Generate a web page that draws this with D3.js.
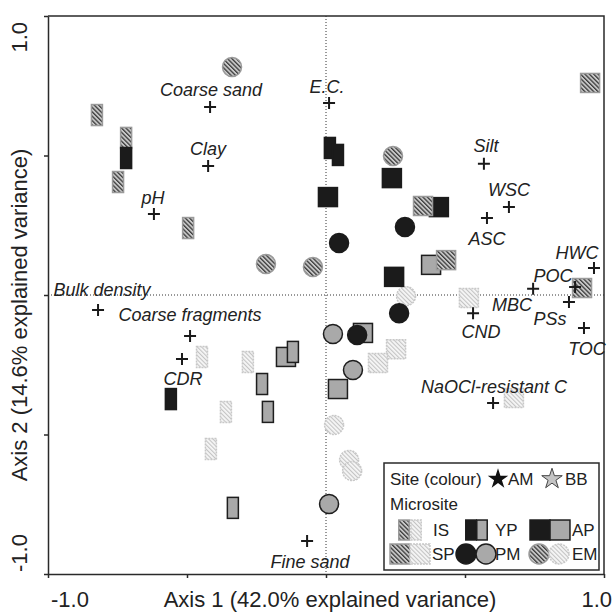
<!DOCTYPE html>
<html>
<head>
<meta charset="utf-8">
<script src="https://cdn.jsdelivr.net/npm/d3@7"></script>
<style>
  body { margin: 0; background: #fff; }
  svg { display: block; font-family: "Liberation Sans", Arial, sans-serif; }
</style>
</head>
<body>
<svg width="614" height="612"></svg>
<script>
// environmental variables (vectors) on the ordination
var varNames = ["Coarse sand", "E.C.", "Clay", "pH", "Silt", "WSC", "ASC", "HWC", "POC", "MBC",
                "PSs", "TOC", "CND", "NaOCl-resistant C", "Bulk density", "Coarse fragments", "CDR", "Fine sand"];
var varAxis1 = [-0.417, 0.011, -0.424, -0.619, 0.568, 0.658, 0.579, 0.964, 0.896, 0.745,
                0.874, 0.928, 0.529, 0.601, -0.820, -0.489, -0.518, -0.068];
var varAxis2 = [0.674, 0.688, 0.462, 0.290, 0.470, 0.315, 0.276, 0.097, 0.029, 0.022,
                -0.025, -0.118, -0.065, -0.387, -0.054, -0.147, -0.229, -0.882];

// samples
var sites = ["AM", "BB"];
var microsites = ["IS", "YP", "AP", "SP", "PM", "EM"];
var sampleSite = [
  "BB","BB","BB","BB", "BB","BB","BB","BB", "BB","BB","BB","BB",
  "BB","BB","BB","BB", "BB","BB","BB", "BB","BB","BB","BB",
  "AM","AM","AM","AM", "AM","AM","AM","AM", "AM","AM","AM","AM",
  "AM","AM","AM","AM", "AM","AM","AM","AM", "AM","AM","AM","AM"];
var sampleMicrosite = [
  "IS","IS","IS","IS", "AP","YP","YP","YP", "YP","AP","AP","AP",
  "SP","SP","SP","SP", "PM","PM","PM", "EM","EM","EM","EM",
  "IS","IS","IS","IS", "YP","YP","YP","YP", "AP","AP","AP","AP",
  "SP","SP","SP","SP", "PM","PM","PM","PM", "EM","EM","EM","EM"];
var sampleAxis1 = [
  -0.446, -0.281, -0.360, -0.414,  -0.144, -0.119, -0.230, -0.209,  -0.335, 0.378, 0.133, 0.043,
  0.514, 0.252, 0.187, 0.676,  0.025, 0.097, 0.011,  0.288, 0.029, 0.083, 0.094,
  -0.824, -0.719, -0.748, -0.496,  -0.719, 0.014, 0.043, -0.558,  0.007, 0.237, 0.406, 0.245,
  0.349, 0.432, 0.921, 0.950,  0.284, 0.047, 0.263, 0.112,  -0.338, -0.216, -0.047, 0.241];
var sampleAxis2 = [
  -0.222, -0.240, -0.419, -0.552,  -0.222, -0.204, -0.319, -0.419,  -0.763, 0.108, -0.136, -0.337,
  -0.011, -0.194, -0.244, -0.369,  -0.140, -0.269, -0.749,  -0.004, -0.466, -0.591, -0.631,
  0.645, 0.563, 0.405, 0.240,  0.491, 0.527, 0.502, -0.373,  0.351, 0.419, 0.315, 0.065,
  0.319, 0.125, 0.025, 0.760,  0.244, 0.186, -0.065, -0.143,  0.817, 0.111, 0.100, 0.498];

var xTicks = [-1, -0.5, 0, 0.5, 1];
var yTicks = [-1, -0.5, 0, 0.5, 1];
var tickLabels = ["-1.0", "1.0"];
var xTitle = "Axis 1 (42.0% explained variance)";
var yTitle = "Axis 2 (14.6% explained variance)";

var svg = d3.select("svg"),
    margin = {top: 16, right: 10, bottom: 38, left: 48},
    width = +svg.attr("width") - margin.left - margin.right,
    height = +svg.attr("height") - margin.top - margin.bottom;

var x = d3.scaleLinear().domain([-1, 1]).range([0, width]),
    y = d3.scaleLinear().domain([-1, 1]).range([height, 0]);

// hatch patterns
var defs = svg.append("defs");
function hatch(id, bg, fg, w, period) {
  var p = defs.append("pattern")
      .attr("id", id)
      .attr("patternUnits", "userSpaceOnUse")
      .attr("width", period).attr("height", period)
      .attr("patternTransform", "rotate(-45)");
  p.append("rect").attr("width", period).attr("height", period).attr("fill", bg);
  p.append("line").attr("x1", 0.5).attr("y1", 0).attr("x2", 0.5).attr("y2", period)
      .attr("stroke", fg).attr("stroke-width", w);
}
hatch("hatchDark", "#c8c8c8", "#3c3c3c", 1.6, 3.1);
hatch("hatchLight", "#f6f6f6", "#c4c4c4", 1.2, 3);

var g = svg.append("g")
    .attr("transform", "translate(" + margin.left + "," + margin.top + ")");

// zero lines
g.append("line")
    .attr("x1", 0).attr("x2", width).attr("y1", y(0)).attr("y2", y(0))
    .attr("stroke", "#333").attr("stroke-dasharray", "1,2");
g.append("line")
    .attr("x1", x(0)).attr("x2", x(0)).attr("y1", 0).attr("y2", height)
    .attr("stroke", "#333").attr("stroke-dasharray", "1,2");

// axes
g.append("g")
    .attr("class", "axis axis--x")
    .attr("transform", "translate(0," + height + ")")
    .call(d3.axisBottom(x).tickValues(xTicks).tickSize(4).tickSizeOuter(0).tickFormat(""));
g.append("g")
    .attr("class", "axis axis--y")
    .call(d3.axisLeft(y).tickValues(yTicks).tickSize(4).tickSizeOuter(0).tickFormat(""));
g.selectAll(".axis path, .axis line").attr("stroke", "#2a2a2a").attr("stroke-width", 1.5);

// frame (top & right)
g.append("path")
    .attr("d", "M0,0H" + width + "V" + height)
    .attr("fill", "none").attr("stroke", "#2a2a2a").attr("stroke-width", 1.5);

// tick labels & titles
var axisFont = 22;
g.append("text")
    .attr("x", x(-1) + 3).attr("y", height + 33)
    .attr("font-size", axisFont).attr("fill", "#222")
    .text(tickLabels[0]);
g.append("text")
    .attr("x", x(1) + 8).attr("y", height + 33)
    .attr("text-anchor", "end")
    .attr("font-size", axisFont).attr("fill", "#222")
    .text(tickLabels[1]);
g.append("text")
    .attr("x", x(0) + 4).attr("y", height + 33)
    .attr("text-anchor", "middle")
    .attr("font-size", axisFont).attr("fill", "#222")
    .text(xTitle);

g.append("text")
    .attr("transform", "translate(" + (-21) + "," + (y(-1) - 2) + ") rotate(-90)")
    .attr("font-size", axisFont).attr("fill", "#222")
    .text(tickLabels[0]);
g.append("text")
    .attr("transform", "translate(" + (-21) + "," + (y(1) + 6) + ") rotate(-90)")
    .attr("text-anchor", "end")
    .attr("font-size", axisFont).attr("fill", "#222")
    .text(tickLabels[1]);
g.append("text")
    .attr("transform", "translate(" + (-21) + "," + (y(0) + 20) + ") rotate(-90)")
    .attr("text-anchor", "middle")
    .attr("font-size", axisFont).attr("fill", "#222")
    .text(yTitle);

// sample markers
var samples = sampleSite.map(function(s, i) {
  return {site: s, micro: sampleMicrosite[i], a1: sampleAxis1[i], a2: sampleAxis2[i]};
});

function isHatched(micro) {
  return micro == "IS" || micro == "SP" || micro == "EM";
}
function fillFor(site, micro) {
  if (site == "AM") return isHatched(micro) ? "url(#hatchDark)" : "#1b1b1b";
  return isHatched(micro) ? "url(#hatchLight)" : "#a9a9a9";
}
function strokeFor(site, micro) {
  if (site == "AM") return isHatched(micro) ? "#9a9a9a" : "#1b1b1b";
  return isHatched(micro) ? "#c8c8c8" : "#1e1e1e";
}
function drawMarker(sel, site, micro, cx, cy, scale) {
  var k = scale || 1, m;
  if (micro == "IS" || micro == "YP") {
    m = sel.append("rect").attr("x", cx - 5.5 * k).attr("y", cy - 10.5 * k)
        .attr("width", 11 * k).attr("height", 21 * k);
  } else if (micro == "AP" || micro == "SP") {
    m = sel.append("rect").attr("x", cx - 9.5 * k).attr("y", cy - 9.5 * k)
        .attr("width", 19 * k).attr("height", 19 * k);
  } else {
    m = sel.append("circle").attr("cx", cx).attr("cy", cy).attr("r", 9.5 * k);
  }
  m.attr("fill", fillFor(site, micro))
   .attr("stroke", strokeFor(site, micro))
   .attr("stroke-width", 1.5);
  if (site == "BB" && isHatched(micro)) m.attr("stroke-dasharray", "2,1");
  return m;
}

var marks = g.append("g");
samples.forEach(function(d) {
  drawMarker(marks, d.site, d.micro, x(d.a1), y(d.a2));
});

// environmental variable crosses and labels
var labelOffsets = [[1, -11], [-2, -10], [0, -11], [-1, -10], [2, -12], [0, -11], [0, 27], [-17, -9],
                    [-22, -5], [-21, 22], [-19, 23], [3, 27], [8, 25], [1, -10], [4, -14], [0, -15],
                    [1, 26], [3, 27]];
var vars = g.append("g");
varNames.forEach(function(name, i) {
  var cx = x(varAxis1[i]), cy = y(varAxis2[i]);
  vars.append("path")
      .attr("d", "M" + (cx - 6) + "," + cy + "H" + (cx + 6) + "M" + cx + "," + (cy - 6) + "V" + (cy + 6))
      .attr("stroke", "#1a1a1a").attr("stroke-width", 2);
  vars.append("text")
      .attr("x", cx + labelOffsets[i][0]).attr("y", cy + labelOffsets[i][1])
      .attr("text-anchor", "middle")
      .attr("font-size", 18).attr("font-style", "italic").attr("fill", "#222")
      .text(name);
});

// legend
var lg = svg.append("g").attr("transform", "translate(384,463)");
lg.append("rect").attr("width", 215).attr("height", 107)
    .attr("fill", "#fff").attr("stroke", "#2a2a2a").attr("stroke-width", 1.5);
lg.append("text").attr("x", 6).attr("y", 22).attr("font-size", 17).attr("fill", "#222").text("Site (colour)");
lg.append("path").attr("d", d3.symbol(d3.symbolStar, 130)())
    .attr("transform", "translate(114,16)").attr("fill", "#111");
lg.append("text").attr("x", 124).attr("y", 22).attr("font-size", 17).attr("fill", "#222").text(sites[0]);
lg.append("path").attr("d", d3.symbol(d3.symbolStar, 130)())
    .attr("transform", "translate(168,16)").attr("fill", "#c4c4c4").attr("stroke", "#444");
lg.append("text").attr("x", 181).attr("y", 22).attr("font-size", 17).attr("fill", "#222").text(sites[1]);
lg.append("text").attr("x", 6).attr("y", 47).attr("font-size", 17).attr("fill", "#222").text("Microsite");

var legendPos = {
  IS: [20, 32, 49, 67], YP: [87, 98, 111, 67],
  AP: [156, 176, 188, 67], SP: [16, 36, 48, 91],
  PM: [82, 102, 111, 91], EM: [155, 175, 188, 91]
};
microsites.forEach(function(m) {
  var p = legendPos[m];
  var k = (m == "IS" || m == "YP") ? 0.95 : 1.05;
  drawMarker(lg, "AM", m, p[0], p[3], k);
  drawMarker(lg, "BB", m, p[1], p[3], k);
  lg.append("text").attr("x", p[2]).attr("y", p[3] + 6)
      .attr("font-size", 17).attr("fill", "#222").text(m);
});
</script>
</body>
</html>
